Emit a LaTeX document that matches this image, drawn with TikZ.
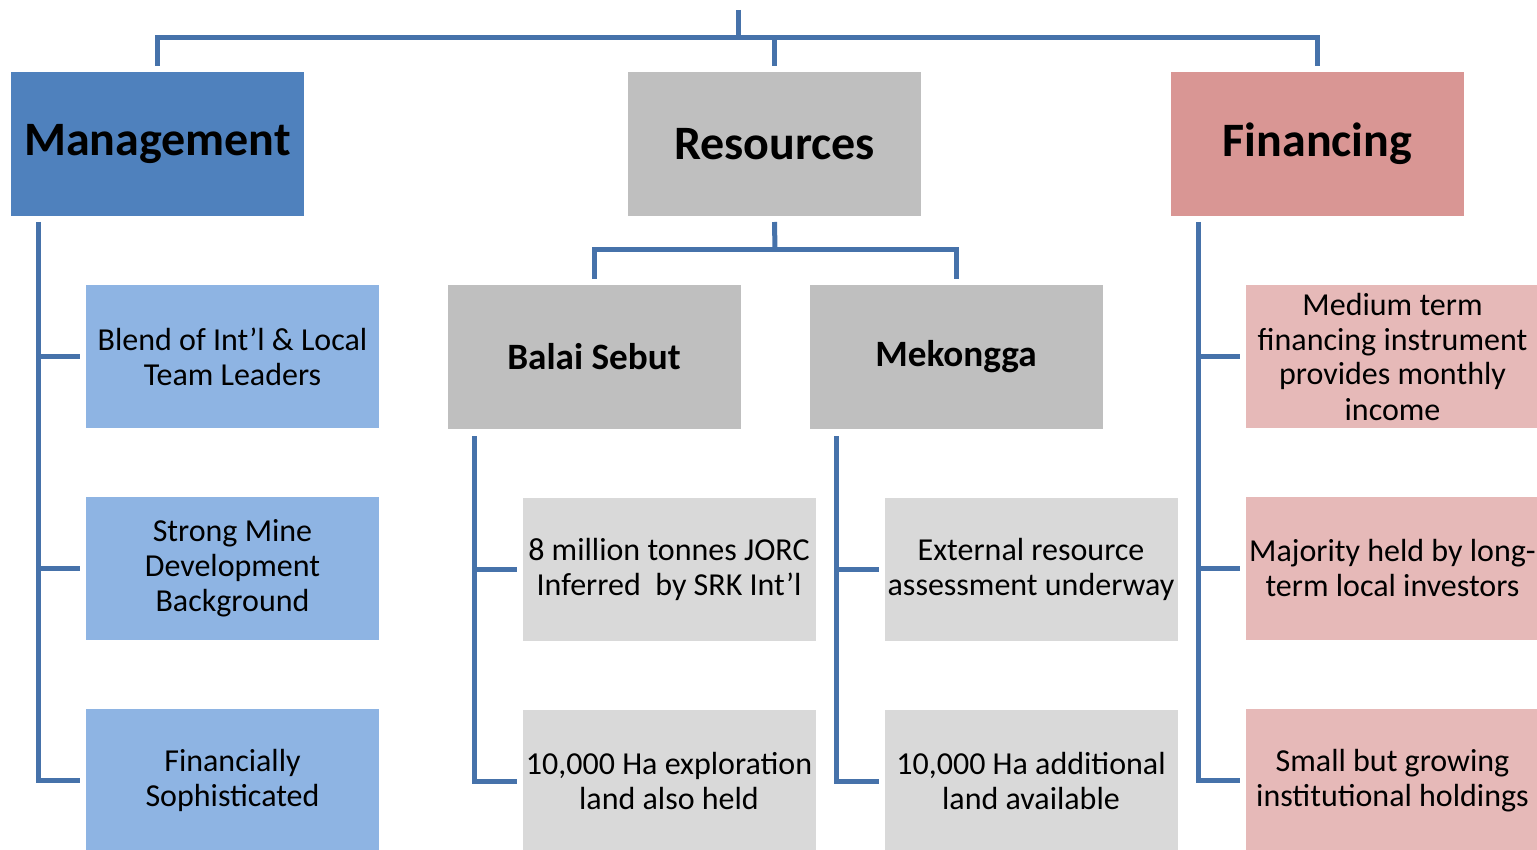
\documentclass[tikz,border=0pt]{standalone}
\usepackage{fontspec}
\setmainfont{Carlito}
\usepackage{tikz}
\usetikzlibrary{positioning}

\definecolor{mgmtblue}{HTML}{4F81BD}
\definecolor{mgmtlight}{HTML}{8EB4E3}
\definecolor{resgrey}{HTML}{BFBFBF}
\definecolor{reslight}{HTML}{D9D9D9}
\definecolor{finred}{HTML}{D99694}
\definecolor{finlight}{HTML}{E6B9B8}
\definecolor{linkblue}{HTML}{4672AA}

\tikzset{
  titlebox/.style={minimum width=146.5pt, minimum height=72pt, inner sep=0pt, outer sep=0pt,
    font=\fontsize{24}{29}\selectfont\bfseries},
  subbox/.style={minimum width=146.5pt, minimum height=72pt, inner sep=0pt, outer sep=0pt,
    fill=resgrey, font=\fontsize{18.6}{22}\selectfont\bfseries},
  itembox/.style={minimum width=146.5pt, minimum height=71.5pt, inner sep=0pt, outer sep=0pt,
    align=center, font=\fontsize{16}{17.5}\selectfont},
  conn/.style={draw=linkblue, line width=2.5pt}
}

\begin{document}
\begin{tikzpicture}[x=0.5pt,y=-0.5pt,node distance=34.5pt]
\useasboundingbox (0,0) rectangle (1537,850);
\clip (0,0) rectangle (1537,850);

% top row
\node[titlebox, fill=mgmtblue] (mgmt) at (157.5,144) {Management};
\node[titlebox, fill=resgrey] (res) at (774.5,144) {Resources};
\node[titlebox, fill=finred] (fin) at (1317.5,144) {Financing};

% management column
\node[itembox, fill=mgmtlight] (mA) [below=of mgmt, xshift=37.5pt] {Blend of Int’l \& Local\\Team Leaders};
\node[itembox, fill=mgmtlight] (mB) [below=of mA] {Strong Mine\\Development\\Background};
\node[itembox, fill=mgmtlight] (mC) [below=of mB] {Financially\\Sophisticated};

% resources columns
\node[subbox] (bal) [below=of res, xshift=-90.25pt] {Balai Sebut};
\node[subbox] (mek) [right=of bal] {Mekongga};
\node[itembox, fill=reslight] (bA) [below=of bal, xshift=37.5pt] {8 million tonnes JORC\\Inferred\ \ by SRK Int’l};
\node[itembox, fill=reslight] (bB) [below=of bA] {10,000 Ha exploration\\land also held};
\node[itembox, fill=reslight] (kA) [below=of mek, xshift=37.5pt] {External resource\\assessment underway};
\node[itembox, fill=reslight] (kB) [below=of kA] {10,000 Ha additional\\land available};

% financing column
\node[itembox, fill=finlight] (fA) [below=of fin, xshift=37.5pt] {Medium term\\financing instrument\\provides monthly\\income};
\node[itembox, fill=finlight] (fB) [below=of fA] {Majority held by long-\\term local investors};
\node[itembox, fill=finlight] (fC) [below=of fB] {Small but growing\\institutional holdings};

% top bar
\coordinate (top) at (738,10);
\coordinate (bar) at (738,38);
\draw[conn] (top) -- (bar);
\draw[conn] ([yshift=3pt]mgmt.north) |- (bar) -| ([yshift=3pt]fin.north);
\draw[conn] ([yshift=3pt]res.north) -- (res.north |- bar);

% resources split
\coordinate (rbar) at (775,250);
\draw[conn] ([yshift=-3pt]res.south) -- (rbar);
\draw[conn] ([yshift=3pt]bal.north) |- (rbar) -| ([yshift=3pt]mek.north);

% trunks
\coordinate (mtrunk) at ([xshift=13.5pt,yshift=-3pt]mgmt.south west);
\draw[conn] (mtrunk) |- ([xshift=-3pt]mC.west);
\foreach \n in {mA,mB}
  \draw[conn] (mtrunk |- \n.west) -- ([xshift=-3pt]\n.west);

\coordinate (btrunk) at ([xshift=13.5pt,yshift=-3.5pt]bal.south west);
\draw[conn] (btrunk) |- ([xshift=-3pt]bB.west);
\draw[conn] (btrunk |- bA.west) -- ([xshift=-3pt]bA.west);

\coordinate (ktrunk) at ([xshift=13.5pt,yshift=-3.5pt]mek.south west);
\draw[conn] (ktrunk) |- ([xshift=-3pt]kB.west);
\draw[conn] (ktrunk |- kA.west) -- ([xshift=-3pt]kA.west);

\coordinate (ftrunk) at ([xshift=13.5pt,yshift=-3pt]fin.south west);
\draw[conn] (ftrunk) |- ([xshift=-3pt]fC.west);
\foreach \n in {fA,fB}
  \draw[conn] (ftrunk |- \n.west) -- ([xshift=-3pt]\n.west);
\end{tikzpicture}
\end{document}
